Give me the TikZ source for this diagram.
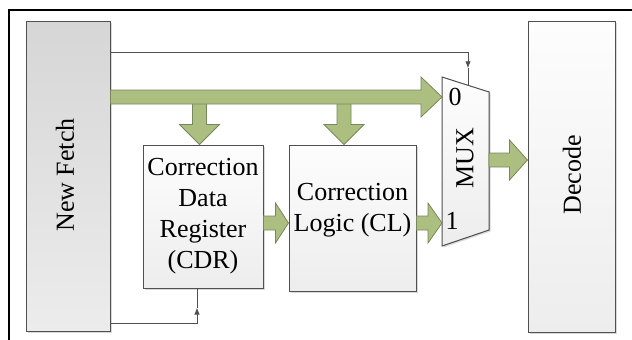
\documentclass[tikz,border=0pt]{standalone}
\usepackage{fontspec}
\setmainfont{Liberation Serif}
\usepackage{graphicx}
\usetikzlibrary{arrows.meta,calc,shadows}
\definecolor{busgreen}{RGB}{172,190,128}
\definecolor{busedge}{RGB}{120,136,92}
\definecolor{boxedge}{RGB}{80,80,80}
\definecolor{fetchtop}{RGB}{214,214,214}
\definecolor{fetchbot}{RGB}{236,236,236}
\definecolor{paletop}{RGB}{253,253,253}
\definecolor{palebot}{RGB}{237,237,237}
\tikzset{
  stage/.style={draw=boxedge,line width=1pt,top color=paletop,bottom color=palebot,
    drop shadow={shadow xshift=1.5pt,shadow yshift=-1.5pt,fill=black,opacity=0.15},inner sep=0pt},
  lbl/.style={font=\fontsize{26}{31}\selectfont,align=center,inner sep=0pt},
  ctrl/.style={draw=boxedge,line width=0.9pt},
  tip/.style={-{Latex[length=7pt,width=5.5pt]}},
  bus/.style={fill=busgreen,draw=busedge,line width=0.8pt,line join=miter},
  fatright/.style={to path={(\tikztostart) ++(0,-7) -- ($(\tikztotarget)+(-#1,-7)$) -- ++(0,-13)
    -- (\tikztotarget) -- ++(-#1,20) -- ++(0,-13) -- ($(\tikztostart)+(0,7)$) -- cycle}},
  fatdown/.style={to path={(\tikztostart) ++(-7,0) -- ($(\tikztotarget)+(-7,-#1)$) -- ++(-13,0)
    -- (\tikztotarget) -- ++(20,-#1) -- ++(-13,0) -- ($(\tikztostart)+(7,0)$) -- cycle}},
}
\begin{document}
\begin{tikzpicture}[x=1pt,y=-1pt]
  \useasboundingbox (0,0) rectangle (632,340);
  % frame
  \draw[line width=2.5pt] (9,340) -- (9,10) -- (632,10);
  % pipeline stages
  \node[stage,top color=fetchtop,bottom color=fetchbot,minimum width=84,minimum height=310] (nf) at (68,176) {};
  \node[lbl] (nftext) at (65,175) {\rotatebox{90}{New Fetch}};
  \node[stage,minimum width=87,minimum height=311] (dec) at (571.5,176.5) {};
  \node[lbl] (dectext) at (572,175) {\rotatebox{90}{Decode}};
  \node[stage,lbl,minimum width=120,minimum height=143] (cdr) at (203,216.5) {Correction\\Data\\Register\\(CDR)};
  \node[stage,minimum width=127,minimum height=146] (cl) at (352.5,218) {};
  \node[lbl] (cltext) at (352.5,210) {Correction\\Logic (CL)};
  % multiplexer
  \coordinate (m1) at (442,77);
  \coordinate (m2) at (489,92);
  \coordinate (m3) at (489,230);
  \coordinate (m4) at (442,246);
  \filldraw[stage] (m1) -- (m2) -- (m3) -- (m4) -- cycle;
  \node[lbl] (mux) at (465,158) {\rotatebox{90}{MUX}};
  \node[lbl] (in0) at (455,96.5) {0};
  \node[lbl] (in1) at (452,221) {1};
  \coordinate (mux0) at (442,97);
  \coordinate (mux1) at (442,223);
  \coordinate (muxout) at (489,160);
  % wide data paths
  \coordinate (cdrtop) at ([xshift=-3.5pt]cdr.north);
  \coordinate (cltop) at ([xshift=-8.5pt]cl.north);
  \filldraw[bus] (cdrtop |- mux0) to[fatdown=20] (cdrtop);
  \filldraw[bus] (cltop |- mux0) to[fatdown=20] (cltop);
  \filldraw[bus] (nf.east |- mux0) to[fatright=21] (mux0);
  \filldraw[bus] (cdr.east |- mux1) to[fatright=13] (cl.west |- mux1);
  \filldraw[bus] (cl.east |- mux1) to[fatright=14] (mux1);
  \filldraw[bus] (muxout) to[fatright=18] (dec.west |- muxout);
  % select and load lines
  \coordinate (selin) at ($(m1)!0.553!(m2)$);
  \coordinate (seltip) at ($(selin)+(0,-17)$);
  \draw[ctrl,tip] (nf.east |- 0,52) -| (seltip);
  \draw[ctrl] (seltip) -- (selin);
  \coordinate (cdrin) at ([xshift=-6pt]cdr.south);
  \coordinate (cdrtip) at ($(cdrin)+(0,19)$);
  \draw[ctrl,tip] (nf.east |- 0,323) -| (cdrtip);
  \draw[ctrl] (cdrtip) -- (cdrin);
\end{tikzpicture}
\end{document}
